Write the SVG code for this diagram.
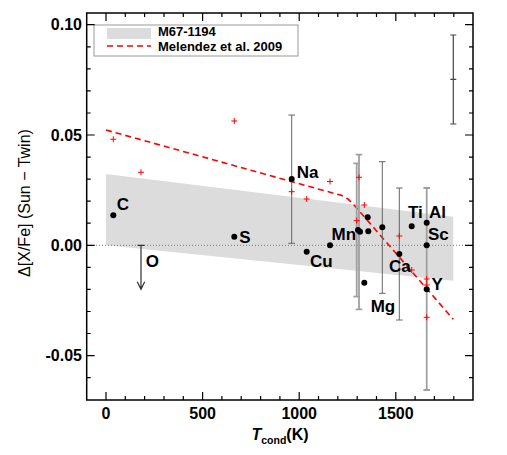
<svg xmlns="http://www.w3.org/2000/svg" width="507" height="455" viewBox="0 0 507 455">
<defs>
<style>
text{font-family:"Liberation Sans",Arial,Helvetica,sans-serif;fill:#000}
.tick{font-size:16px;font-weight:bold}
.lab{font-size:17px;font-weight:bold}
.leg{font-size:13px;font-weight:bold}
.ax{stroke:#000;stroke-width:1.5;fill:none}
.tk{stroke:#000;stroke-width:1.2}
.pl{stroke:#f00;stroke-width:1}
.eb{stroke:#666;stroke-width:1;fill:none}
.ebl{stroke:#a0a0a0;stroke-width:1.8;fill:none}
.dot{fill:#000}
</style>
<g id="plus"><path class="pl" d="M-3,0H3M0,-3V3"/></g>
</defs>
<rect width="507" height="455" fill="#fff"/>
<g id="band"><polygon points="106,174 453.3,216.7 453.3,280.7 106,245.3" fill="#dcdcdc"/></g>
<line x1="87" y1="245.3" x2="473" y2="245.3" stroke="#777" stroke-width="1" stroke-dasharray="1,2"/>
<g id="legend">
<rect x="94" y="25" width="204" height="31" fill="#fff" stroke="#999" stroke-width="1"/>
<rect x="107" y="28" width="44" height="11" fill="#dcdcdc"/>
<line x1="107" y1="46" x2="151" y2="46" stroke="#f00" stroke-width="1.5" stroke-dasharray="6,4"/>
<text class="leg" x="158" y="35.8">M67-1194</text>
<text class="leg" x="158" y="50.5">Melendez et al. 2009</text>
</g>
<g id="connectors">
<polyline points="106,130 342,195.6 348,199 354,205 453.3,319.3" fill="none" stroke="#f00" stroke-width="1.6" stroke-dasharray="6,4"/>
<path class="eb" d="M291.7,115V243.3M288.4,115H295M288.4,243.3H295"/>
<path class="ebl" d="M356.7,163.3V296.7M353.4,163.3H360M353.4,296.7H360"/>
<path class="ebl" d="M359,154.7V309.3M355.7,154.7H362.3M355.7,309.3H362.3"/>
<path class="eb" d="M382.3,161.7V293.3M379,161.7H385.6M379,293.3H385.6"/>
<path class="eb" d="M399.3,188V320M396,188H402.6M396,320H402.6"/>
<path class="ebl" d="M426.7,188V390M423.4,188H430M423.4,390H430"/>
<path d="M453.3,35V124M450.3,35H456.3M450.3,124H456.3M450.3,79.3H456.3" stroke="#444" stroke-width="1.2" fill="none"/>
<path d="M141,245.3V289M137.5,245.3H144.5M137.3,281.7L141,289.3L144.7,281.7" stroke="#333" stroke-width="1.2" fill="none"/>
</g>
<g id="melendez">
<use href="#plus" x="113.3" y="139.3"/>
<use href="#plus" x="141" y="172.3"/>
<use href="#plus" x="234.3" y="121"/>
<use href="#plus" x="291.7" y="191.7"/>
<use href="#plus" x="306.7" y="199"/>
<use href="#plus" x="330" y="181.5"/>
<use href="#plus" x="359" y="177.3"/>
<use href="#plus" x="364.3" y="205"/>
<use href="#plus" x="356.7" y="220.7"/>
<use href="#plus" x="399.3" y="236"/>
<use href="#plus" x="411.7" y="270"/>
<use href="#plus" x="426.7" y="279"/>
<use href="#plus" x="426.7" y="285"/>
<use href="#plus" x="426.7" y="317.3"/>
</g>
<g id="node-C"><circle class="dot" cx="113.3" cy="215.3" r="3"/><text class="lab" x="116.7" y="210">C</text></g>
<g id="node-S"><circle class="dot" cx="234.3" cy="236.7" r="3"/><text class="lab" x="239.3" y="242.7">S</text></g>
<g id="node-O"><text class="lab" x="145.7" y="266.7">O</text></g>
<g id="node-Na"><circle class="dot" cx="291.7" cy="179" r="3"/><text class="lab" x="296.7" y="178.3">Na</text></g>
<g id="node-Cu"><circle class="dot" cx="306.7" cy="251.7" r="3"/><text class="lab" x="310" y="266.7">Cu</text></g>
<g id="node-Mn"><circle class="dot" cx="330" cy="245.3" r="3"/><text class="lab" x="331.5" y="240">Mn</text></g>
<g id="node-x1"><circle class="dot" cx="358" cy="230" r="3"/><circle class="dot" cx="360" cy="231.7" r="3"/></g>
<g id="node-x2"><circle class="dot" cx="367.7" cy="217.3" r="3"/><circle class="dot" cx="368.3" cy="231.3" r="3"/></g>
<g id="node-x3"><circle class="dot" cx="382.3" cy="227.3" r="3"/></g>
<g id="node-Mg"><circle class="dot" cx="364.3" cy="282.7" r="3"/><text class="lab" x="370.7" y="311.7">Mg</text></g>
<g id="node-Ca"><circle class="dot" cx="399.3" cy="254" r="3"/><text class="lab" x="389" y="271.7">Ca</text></g>
<g id="node-Ti"><circle class="dot" cx="411.7" cy="226.3" r="3"/><text class="lab" x="408" y="218.3">Ti</text></g>
<g id="node-Al"><circle class="dot" cx="426.7" cy="222.7" r="3"/><text class="lab" x="429" y="218.3">Al</text></g>
<g id="node-Sc"><circle class="dot" cx="426.7" cy="245.3" r="3"/><text class="lab" x="428" y="240">Sc</text></g>
<g id="node-Y"><circle class="dot" cx="426.7" cy="289.3" r="3"/><text class="lab" x="431.5" y="290">Y</text></g>
<g id="axes">
<rect class="ax" x="86.7" y="13" width="386.3" height="387"/>
<path class="tk" d="M86.7,24.7h8M86.7,46.8h4M86.7,68.8h4M86.7,90.9h4M86.7,113h4M86.7,135h8M86.7,157.1h4M86.7,179.1h4M86.7,201.2h4M86.7,223.2h4M86.7,245.3h8M86.7,267.4h4M86.7,289.4h4M86.7,311.5h4M86.7,333.5h4M86.7,355.6h8M86.7,377.7h4"/>
<path class="tk" d="M473,24.7h-8M473,46.8h-4M473,68.8h-4M473,90.9h-4M473,113h-4M473,135h-8M473,157.1h-4M473,179.1h-4M473,201.2h-4M473,223.2h-4M473,245.3h-8M473,267.4h-4M473,289.4h-4M473,311.5h-4M473,333.5h-4M473,355.6h-8M473,377.7h-4"/>
<path class="tk" d="M106,400v-8M125.3,400v-4M144.6,400v-4M164,400v-4M183.3,400v-4M202.6,400v-8M221.9,400v-4M241.2,400v-4M260.6,400v-4M279.9,400v-4M299.2,400v-8M318.5,400v-4M337.8,400v-4M357.2,400v-4M376.5,400v-4M395.8,400v-8M415.1,400v-4M434.4,400v-4M453.8,400v-4"/>
<path class="tk" d="M106,13v8M125.3,13v4M144.6,13v4M164,13v4M183.3,13v4M202.6,13v8M221.9,13v4M241.2,13v4M260.6,13v4M279.9,13v4M299.2,13v8M318.5,13v4M337.8,13v4M357.2,13v4M376.5,13v4M395.8,13v8M415.1,13v4M434.4,13v4M453.8,13v4"/>
<g text-anchor="end">
<text class="tick" x="82" y="30.4">0.10</text>
<text class="tick" x="82" y="140.7">0.05</text>
<text class="tick" x="82" y="251">0.00</text>
<text class="tick" x="82" y="361.3">-0.05</text>
</g>
<g text-anchor="middle">
<text class="tick" x="106" y="419">0</text>
<text class="tick" x="202.6" y="419">500</text>
<text class="tick" x="299.2" y="419">1000</text>
<text class="tick" x="395.8" y="419">1500</text>
</g>
<text x="280" y="440" text-anchor="middle" style="font-size:16px;font-weight:bold"><tspan font-style="italic">T</tspan><tspan style="font-size:10.5px" dy="4">cond</tspan><tspan dy="-4">(K)</tspan></text>
<text transform="translate(29.5,203) rotate(-90)" text-anchor="middle" style="font-size:16px">Δ[X/Fe] (Sun − Twin)</text>
</g>
</svg>
